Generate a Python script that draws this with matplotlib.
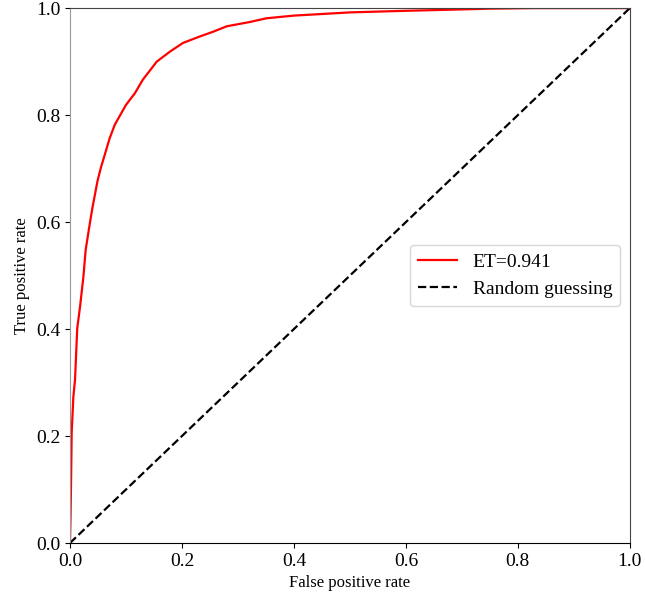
import matplotlib
matplotlib.use("Agg")
import matplotlib.pyplot as plt

plt.rcParams["font.family"] = ["Liberation Serif", "DejaVu Serif"]

# ROC curve points
fpr = [0.0, 0.001, 0.002, 0.003, 0.006, 0.009, 0.013, 0.018, 0.024, 0.028,
       0.036, 0.040, 0.049, 0.055, 0.071, 0.080, 0.100, 0.116, 0.130, 0.155,
       0.179, 0.202, 0.232, 0.256, 0.280, 0.321, 0.351, 0.40, 0.50, 0.60,
       0.679, 0.75, 0.83, 1.0]
tpr = [0.0, 0.05, 0.12, 0.205, 0.273, 0.305, 0.402, 0.442, 0.498, 0.548,
       0.601, 0.626, 0.676, 0.701, 0.757, 0.782, 0.819, 0.841, 0.866, 0.900,
       0.919, 0.935, 0.947, 0.956, 0.966, 0.974, 0.981, 0.986, 0.992, 0.995,
       0.997, 0.999, 1.0, 1.0]
auc_label = "ET=0.941"
chance = [0.0, 1.0]

fig = plt.figure(figsize=(6.45, 6.01), dpi=100)
ax = fig.add_axes([0.1085, 0.0965, 0.868, 0.89])

ax.plot(fpr, tpr, color="red", lw=1.6, label=auc_label)
ax.plot(chance, chance, color="black", ls="--", lw=1.6, label="Random guessing")

ax.set_xlim(0, 1)
ax.set_ylim(0, 1)
ax.set_xticks([0, 0.2, 0.4, 0.6, 0.8, 1.0])
ax.set_yticks([0, 0.2, 0.4, 0.6, 0.8, 1.0])
ax.tick_params(labelsize=14)
ax.set_xlabel("False positive rate", fontsize=12)
ax.set_ylabel("True positive rate", fontsize=12)

ax.spines["left"].set_color("#999999")
ax.spines["bottom"].set_color("black")
ax.spines["top"].set_color("#444444")
ax.spines["right"].set_color("#444444")

ax.legend(loc="center right", fontsize=14)

fig.savefig("out.png", dpi=100)
